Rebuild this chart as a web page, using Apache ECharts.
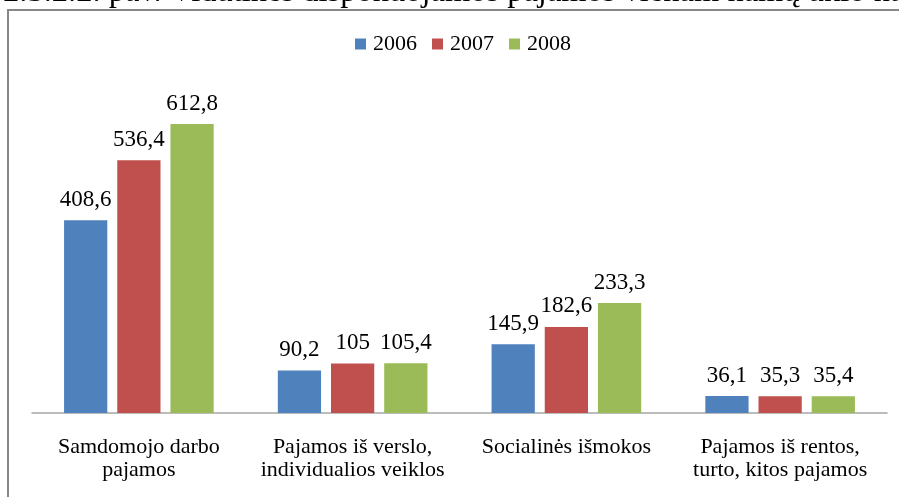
<!DOCTYPE html>
<html>
<head>
<meta charset="utf-8">
<script src="https://cdn.jsdelivr.net/npm/echarts@6/dist/echarts.min.js"></script>
<style>
  html, body { margin: 0; padding: 0; background: #fff; }
  #chart { width: 899px; height: 497px; }
</style>
</head>
<body>
<div id="chart"></div>
<script>
// data
const categories = [
  'Samdomojo darbo\npajamos',
  'Pajamos iš verslo,\nindividualios veiklos',
  'Socialinės išmokos',
  'Pajamos iš rentos,\nturto, kitos pajamos'
];
const years = ['2006', '2007', '2008'];
const values2006 = [408.6, 90.2, 145.9, 36.1];
const values2007 = [536.4, 105, 182.6, 35.3];
const values2008 = [612.8, 105.4, 233.3, 35.4];
const colors = ['#4F81BD', '#C0504D', '#9BBB59'];

const font = 'Liberation Serif';
const chart = echarts.init(document.getElementById('chart'));

// numbers use a comma as decimal separator
const fmt = p => String(p.value).replace('.', ',');

const makeSeries = (name, data, color) => ({
  name,
  type: 'bar',
  data,
  barGap: '23%',
  barCategoryGap: '30%',
  itemStyle: { color },
  label: {
    show: true,
    position: 'top',
    distance: 9,
    formatter: fmt,
    color: '#000',
    fontFamily: font,
    fontSize: 23
  }
});

chart.setOption({
  animation: false,
  color: colors,
  graphic: [
    {
      type: 'rect',
      shape: { x: 8, y: 10, width: 1000, height: 600 },
      style: { fill: 'none', stroke: '#878787', lineWidth: 2 }
    },
    {
      type: 'text',
      x: 3,
      y: -8,
      style: {
        text: '2.3.2.2. pav. Vidutinės disponuojamos pajamos vienam namų ūkio nariui',
        fontFamily: font,
        fontSize: 32.5,
        fill: '#000',
        verticalAlign: 'middle'
      }
    }
  ],
  legend: {
    data: years,
    left: 350,
    top: 28,
    icon: 'rect',
    itemWidth: 11,
    itemHeight: 11,
    itemGap: 15,
    textStyle: { fontFamily: font, fontSize: 22, color: '#000', padding: [0, 0, 0, 2] }
  },
  grid: { left: 32, right: 12, top: 83, bottom: 84 },
  xAxis: {
    type: 'category',
    data: categories,
    axisLine: { lineStyle: { color: '#A6A6A6', width: 1.5 } },
    axisTick: { show: false },
    axisLabel: {
      color: '#000',
      fontFamily: font,
      fontSize: 22,
      lineHeight: 23,
      margin: 23,
      interval: 0
    }
  },
  yAxis: {
    type: 'value',
    min: 0,
    max: 700,
    show: false
  },
  series: [
    makeSeries(years[0], values2006, colors[0]),
    makeSeries(years[1], values2007, colors[1]),
    makeSeries(years[2], values2008, colors[2])
  ]
});
</script>
</body>
</html>
